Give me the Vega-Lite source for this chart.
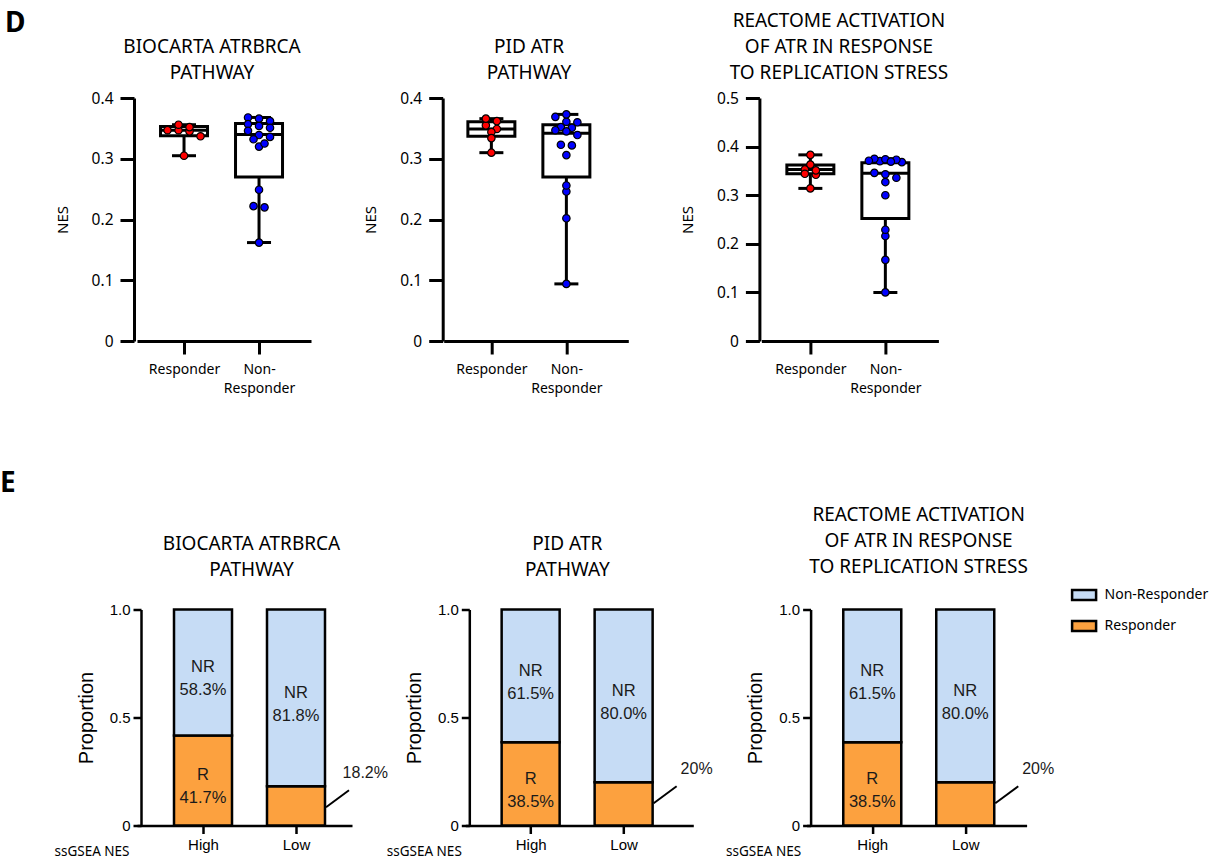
{
  "$schema": "https://vega.github.io/schema/vega-lite/v6.json",
  "background": "white",
  "padding": {"left": 0, "top": 10, "right": 0, "bottom": 3},
  "config": {
    "view": {"stroke": null},
    "font": "Noto Sans",
    "axis": {"grid": false, "domainColor": "black", "tickColor": "black", "labelColor": "black", "titleColor": "black"},
    "title": {"font": "Noto Sans", "fontSize": 19, "fontWeight": "normal", "lineHeight": 26, "color": "black", "anchor": "middle", "frame": "group"}
  },
  "datasets": {
    "nes": [
      {"panel": "p1", "group": "Responder", "nes": 0.345},
      {"panel": "p1", "group": "Responder", "nes": 0.352},
      {"panel": "p1", "group": "Responder", "nes": 0.347},
      {"panel": "p1", "group": "Responder", "nes": 0.347},
      {"panel": "p1", "group": "Responder", "nes": 0.356},
      {"panel": "p1", "group": "Responder", "nes": 0.337},
      {"panel": "p1", "group": "Responder", "nes": 0.305},
      {"panel": "p1", "group": "Non-Responder", "nes": 0.362},
      {"panel": "p1", "group": "Non-Responder", "nes": 0.366},
      {"panel": "p1", "group": "Non-Responder", "nes": 0.368},
      {"panel": "p1", "group": "Non-Responder", "nes": 0.357},
      {"panel": "p1", "group": "Non-Responder", "nes": 0.346},
      {"panel": "p1", "group": "Non-Responder", "nes": 0.354},
      {"panel": "p1", "group": "Non-Responder", "nes": 0.351},
      {"panel": "p1", "group": "Non-Responder", "nes": 0.339},
      {"panel": "p1", "group": "Non-Responder", "nes": 0.332},
      {"panel": "p1", "group": "Non-Responder", "nes": 0.320},
      {"panel": "p1", "group": "Non-Responder", "nes": 0.336},
      {"panel": "p1", "group": "Non-Responder", "nes": 0.325},
      {"panel": "p1", "group": "Non-Responder", "nes": 0.249},
      {"panel": "p1", "group": "Non-Responder", "nes": 0.220},
      {"panel": "p1", "group": "Non-Responder", "nes": 0.222},
      {"panel": "p1", "group": "Non-Responder", "nes": 0.162},
      {"panel": "p2", "group": "Responder", "nes": 0.355},
      {"panel": "p2", "group": "Responder", "nes": 0.366},
      {"panel": "p2", "group": "Responder", "nes": 0.362},
      {"panel": "p2", "group": "Responder", "nes": 0.349},
      {"panel": "p2", "group": "Responder", "nes": 0.344},
      {"panel": "p2", "group": "Responder", "nes": 0.334},
      {"panel": "p2", "group": "Responder", "nes": 0.310},
      {"panel": "p2", "group": "Non-Responder", "nes": 0.369},
      {"panel": "p2", "group": "Non-Responder", "nes": 0.351},
      {"panel": "p2", "group": "Non-Responder", "nes": 0.339},
      {"panel": "p2", "group": "Non-Responder", "nes": 0.352},
      {"panel": "p2", "group": "Non-Responder", "nes": 0.361},
      {"panel": "p2", "group": "Non-Responder", "nes": 0.345},
      {"panel": "p2", "group": "Non-Responder", "nes": 0.373},
      {"panel": "p2", "group": "Non-Responder", "nes": 0.360},
      {"panel": "p2", "group": "Non-Responder", "nes": 0.347},
      {"panel": "p2", "group": "Non-Responder", "nes": 0.322},
      {"panel": "p2", "group": "Non-Responder", "nes": 0.323},
      {"panel": "p2", "group": "Non-Responder", "nes": 0.306},
      {"panel": "p2", "group": "Non-Responder", "nes": 0.246},
      {"panel": "p2", "group": "Non-Responder", "nes": 0.256},
      {"panel": "p2", "group": "Non-Responder", "nes": 0.202},
      {"panel": "p2", "group": "Non-Responder", "nes": 0.094},
      {"panel": "p3", "group": "Responder", "nes": 0.363},
      {"panel": "p3", "group": "Responder", "nes": 0.342},
      {"panel": "p3", "group": "Responder", "nes": 0.353},
      {"panel": "p3", "group": "Responder", "nes": 0.344},
      {"panel": "p3", "group": "Responder", "nes": 0.351},
      {"panel": "p3", "group": "Responder", "nes": 0.383},
      {"panel": "p3", "group": "Responder", "nes": 0.314},
      {"panel": "p3", "group": "Non-Responder", "nes": 0.370},
      {"panel": "p3", "group": "Non-Responder", "nes": 0.375},
      {"panel": "p3", "group": "Non-Responder", "nes": 0.371},
      {"panel": "p3", "group": "Non-Responder", "nes": 0.374},
      {"panel": "p3", "group": "Non-Responder", "nes": 0.368},
      {"panel": "p3", "group": "Non-Responder", "nes": 0.373},
      {"panel": "p3", "group": "Non-Responder", "nes": 0.369},
      {"panel": "p3", "group": "Non-Responder", "nes": 0.346},
      {"panel": "p3", "group": "Non-Responder", "nes": 0.343},
      {"panel": "p3", "group": "Non-Responder", "nes": 0.336},
      {"panel": "p3", "group": "Non-Responder", "nes": 0.327},
      {"panel": "p3", "group": "Non-Responder", "nes": 0.300},
      {"panel": "p3", "group": "Non-Responder", "nes": 0.216},
      {"panel": "p3", "group": "Non-Responder", "nes": 0.229},
      {"panel": "p3", "group": "Non-Responder", "nes": 0.167},
      {"panel": "p3", "group": "Non-Responder", "nes": 0.100}
    ],
    "stats": [
      {"panel": "p1", "group": "Responder", "min": 0.305, "q1": 0.338, "median": 0.347, "q3": 0.353, "max": 0.356},
      {"panel": "p1", "group": "Non-Responder", "min": 0.162, "q1": 0.270, "median": 0.340, "q3": 0.358, "max": 0.368},
      {"panel": "p2", "group": "Responder", "min": 0.310, "q1": 0.337, "median": 0.349, "q3": 0.361, "max": 0.366},
      {"panel": "p2", "group": "Non-Responder", "min": 0.094, "q1": 0.270, "median": 0.342, "q3": 0.356, "max": 0.373},
      {"panel": "p3", "group": "Responder", "min": 0.314, "q1": 0.344, "median": 0.353, "q3": 0.362, "max": 0.383},
      {"panel": "p3", "group": "Non-Responder", "min": 0.100, "q1": 0.252, "median": 0.345, "q3": 0.367, "max": 0.375}
    ],
    "props": [
      {"panel": "b1", "group": "High", "status": "Responder", "prop": 0.417},
      {"panel": "b1", "group": "High", "status": "Non-Responder", "prop": 0.583},
      {"panel": "b1", "group": "Low", "status": "Responder", "prop": 0.182},
      {"panel": "b1", "group": "Low", "status": "Non-Responder", "prop": 0.818},
      {"panel": "b2", "group": "High", "status": "Responder", "prop": 0.385},
      {"panel": "b2", "group": "High", "status": "Non-Responder", "prop": 0.615},
      {"panel": "b2", "group": "Low", "status": "Responder", "prop": 0.2},
      {"panel": "b2", "group": "Low", "status": "Non-Responder", "prop": 0.8},
      {"panel": "b3", "group": "High", "status": "Responder", "prop": 0.385},
      {"panel": "b3", "group": "High", "status": "Non-Responder", "prop": 0.615},
      {"panel": "b3", "group": "Low", "status": "Responder", "prop": 0.2},
      {"panel": "b3", "group": "Low", "status": "Non-Responder", "prop": 0.8}
    ]
  },
  "spacing": 73.5,
  "vconcat": [
    {
      "title": {"text": "D", "anchor": "start", "frame": "bounds", "font": "Noto Sans", "fontSize": 28, "fontWeight": "bold", "dx": -50, "dy": 26, "offset": 0},
      "spacing": 132.7,
      "bounds": "flush",
      "hconcat": [
        {
          "width": 174, "height": 243,
          "title": {"text": ["BIOCARTA ATRBRCA", "PATHWAY"], "offset": 8, "dx": -12},
          "layer": [
            {
              "data": {"name": "stats"},
              "transform": [{"filter": "datum.panel == 'p1'"}],
              "mark": {"type": "rule", "color": "black", "strokeWidth": 3},
              "encoding": {
                "x": {"field": "group", "type": "nominal", "scale": {"type": "point", "domain": ["Responder", "Non-Responder"], "padding": 0.66, "align": 0.475},
                  "axis": {"title": null, "labelAngle": 0, "labelExpr": "datum.value == 'Non-Responder' ? ['Non-', 'Responder'] : datum.value", "labelFont": "Noto Sans", "labelFontSize": 14, "labelLineHeight": 19.5, "tickSize": 13, "labelPadding": 8, "domainWidth": 3, "tickWidth": 3}},
                "y": {"field": "min", "type": "quantitative", "scale": {"domain": [0, 0.4], "nice": false},
                  "axis": {"title": "NES", "offset": 3, "values": [0, 0.1, 0.2, 0.3, 0.4], "labelExpr": "datum.value == 0 ? '0' : format(datum.value, '.1f')", "tickSize": 14, "labelPadding": 7, "labelFont": "Noto Sans", "labelFontSize": 15.5, "titleFont": "Noto Sans", "titleFontSize": 15, "titleFontWeight": "normal", "titlePadding": 21, "domainWidth": 3, "tickWidth": 3}},
                "y2": {"field": "max"}
              }
            },
            {
              "data": {"name": "stats"},
              "transform": [{"filter": "datum.panel == 'p1'"}],
              "mark": {"type": "bar", "fill": "white", "stroke": "black", "strokeWidth": 3, "size": 47},
              "encoding": {"x": {"field": "group", "type": "nominal"}, "y": {"field": "q1", "type": "quantitative"}, "y2": {"field": "q3"}}
            },
            {
              "data": {"name": "stats"},
              "transform": [{"filter": "datum.panel == 'p1'"}],
              "mark": {"type": "tick", "color": "black", "opacity": 1, "thickness": 3, "size": 47},
              "encoding": {"x": {"field": "group", "type": "nominal"}, "y": {"field": "median", "type": "quantitative"}}
            },
            {
              "data": {"name": "stats"},
              "transform": [{"filter": "datum.panel == 'p1'"}],
              "mark": {"type": "tick", "color": "black", "opacity": 1, "thickness": 3, "size": 24},
              "encoding": {"x": {"field": "group", "type": "nominal"}, "y": {"field": "min", "type": "quantitative"}}
            },
            {
              "data": {"name": "stats"},
              "transform": [{"filter": "datum.panel == 'p1'"}],
              "mark": {"type": "tick", "color": "black", "opacity": 1, "thickness": 3, "size": 24},
              "encoding": {"x": {"field": "group", "type": "nominal"}, "y": {"field": "max", "type": "quantitative"}}
            },
            {
              "data": {"name": "nes"},
              "transform": [
                {"filter": "datum.panel == 'p1'"},
                {"calculate": "floor(datum.nes / 0.012)", "as": "band"},
                {"window": [{"op": "row_number", "as": "slot"}], "groupby": ["group", "band"], "sort": [{"field": "nes", "order": "descending"}]},
                {"joinaggregate": [{"op": "count", "as": "crowd"}], "groupby": ["group", "band"]},
                {"calculate": "(datum.slot - (datum.crowd + 1) / 2) * 11", "as": "dx"}
              ],
              "mark": {"type": "point", "shape": "circle", "filled": true, "size": 55, "stroke": "black", "strokeWidth": 1.2, "opacity": 1},
              "encoding": {
                "x": {"field": "group", "type": "nominal"},
                "xOffset": {"field": "dx", "type": "quantitative", "scale": null},
                "y": {"field": "nes", "type": "quantitative"},
                "fill": {"field": "group", "type": "nominal", "scale": {"domain": ["Responder", "Non-Responder"], "range": ["#ff0000", "#0000ff"]}, "legend": null}
              }
            },
            {
              "mark": {"type": "rule", "color": "black", "strokeWidth": 3, "xOffset": -18, "x2Offset": 0},
              "encoding": {"y": {"datum": 0, "type": "quantitative"}}
            }
          ]
        },
        {
          "width": 184.6, "height": 243,
          "title": {"text": ["PID ATR", "PATHWAY"], "offset": 8, "dx": -7},
          "layer": [
            {
              "data": {"name": "stats"},
              "transform": [{"filter": "datum.panel == 'p2'"}],
              "mark": {"type": "rule", "color": "black", "strokeWidth": 3},
              "encoding": {
                "x": {"field": "group", "type": "nominal", "scale": {"type": "point", "domain": ["Responder", "Non-Responder"], "padding": 0.7307, "align": 0.435},
                  "axis": {"title": null, "labelAngle": 0, "labelExpr": "datum.value == 'Non-Responder' ? ['Non-', 'Responder'] : datum.value", "labelFont": "Noto Sans", "labelFontSize": 14, "labelLineHeight": 19.5, "tickSize": 13, "labelPadding": 8, "domainWidth": 3, "tickWidth": 3}},
                "y": {"field": "min", "type": "quantitative", "scale": {"domain": [0, 0.4], "nice": false},
                  "axis": {"title": "NES", "offset": 1, "values": [0, 0.1, 0.2, 0.3, 0.4], "labelExpr": "datum.value == 0 ? '0' : format(datum.value, '.1f')", "tickSize": 14, "labelPadding": 7, "labelFont": "Noto Sans", "labelFontSize": 15.5, "titleFont": "Noto Sans", "titleFontSize": 15, "titleFontWeight": "normal", "titlePadding": 21, "domainWidth": 3, "tickWidth": 3}},
                "y2": {"field": "max"}
              }
            },
            {
              "data": {"name": "stats"},
              "transform": [{"filter": "datum.panel == 'p2'"}],
              "mark": {"type": "bar", "fill": "white", "stroke": "black", "strokeWidth": 3, "size": 47},
              "encoding": {"x": {"field": "group", "type": "nominal"}, "y": {"field": "q1", "type": "quantitative"}, "y2": {"field": "q3"}}
            },
            {
              "data": {"name": "stats"},
              "transform": [{"filter": "datum.panel == 'p2'"}],
              "mark": {"type": "tick", "color": "black", "opacity": 1, "thickness": 3, "size": 47},
              "encoding": {"x": {"field": "group", "type": "nominal"}, "y": {"field": "median", "type": "quantitative"}}
            },
            {
              "data": {"name": "stats"},
              "transform": [{"filter": "datum.panel == 'p2'"}],
              "mark": {"type": "tick", "color": "black", "opacity": 1, "thickness": 3, "size": 24},
              "encoding": {"x": {"field": "group", "type": "nominal"}, "y": {"field": "min", "type": "quantitative"}}
            },
            {
              "data": {"name": "stats"},
              "transform": [{"filter": "datum.panel == 'p2'"}],
              "mark": {"type": "tick", "color": "black", "opacity": 1, "thickness": 3, "size": 24},
              "encoding": {"x": {"field": "group", "type": "nominal"}, "y": {"field": "max", "type": "quantitative"}}
            },
            {
              "data": {"name": "nes"},
              "transform": [
                {"filter": "datum.panel == 'p2'"},
                {"calculate": "floor(datum.nes / 0.012)", "as": "band"},
                {"window": [{"op": "row_number", "as": "slot"}], "groupby": ["group", "band"], "sort": [{"field": "nes", "order": "descending"}]},
                {"joinaggregate": [{"op": "count", "as": "crowd"}], "groupby": ["group", "band"]},
                {"calculate": "(datum.slot - (datum.crowd + 1) / 2) * 11", "as": "dx"}
              ],
              "mark": {"type": "point", "shape": "circle", "filled": true, "size": 55, "stroke": "black", "strokeWidth": 1.2, "opacity": 1},
              "encoding": {
                "x": {"field": "group", "type": "nominal"},
                "xOffset": {"field": "dx", "type": "quantitative", "scale": null},
                "y": {"field": "nes", "type": "quantitative"},
                "fill": {"field": "group", "type": "nominal", "scale": {"domain": ["Responder", "Non-Responder"], "range": ["#ff0000", "#0000ff"]}, "legend": null}
              }
            },
            {
              "mark": {"type": "rule", "color": "black", "strokeWidth": 3, "xOffset": -16, "x2Offset": 0},
              "encoding": {"y": {"datum": 0, "type": "quantitative"}}
            }
          ]
        },
        {
          "width": 177, "height": 243,
          "title": {"text": ["REACTOME ACTIVATION", "OF ATR IN RESPONSE", "TO REPLICATION STRESS"], "offset": 8, "dx": -11},
          "layer": [
            {
              "data": {"name": "stats"},
              "transform": [{"filter": "datum.panel == 'p3'"}],
              "mark": {"type": "rule", "color": "black", "strokeWidth": 3},
              "encoding": {
                "x": {"field": "group", "type": "nominal", "scale": {"type": "point", "domain": ["Responder", "Non-Responder"], "padding": 0.68, "align": 0.48},
                  "axis": {"title": null, "labelAngle": 0, "labelExpr": "datum.value == 'Non-Responder' ? ['Non-', 'Responder'] : datum.value", "labelFont": "Noto Sans", "labelFontSize": 14, "labelLineHeight": 19.5, "tickSize": 13, "labelPadding": 8, "domainWidth": 3, "tickWidth": 3}},
                "y": {"field": "min", "type": "quantitative", "scale": {"domain": [0, 0.5], "nice": false},
                  "axis": {"title": "NES", "offset": 2, "values": [0, 0.1, 0.2, 0.3, 0.4, 0.5], "labelExpr": "datum.value == 0 ? '0' : format(datum.value, '.1f')", "tickSize": 14, "labelPadding": 7, "labelFont": "Noto Sans", "labelFontSize": 15.5, "titleFont": "Noto Sans", "titleFontSize": 15, "titleFontWeight": "normal", "titlePadding": 21, "domainWidth": 3, "tickWidth": 3}},
                "y2": {"field": "max"}
              }
            },
            {
              "data": {"name": "stats"},
              "transform": [{"filter": "datum.panel == 'p3'"}],
              "mark": {"type": "bar", "fill": "white", "stroke": "black", "strokeWidth": 3, "size": 47},
              "encoding": {"x": {"field": "group", "type": "nominal"}, "y": {"field": "q1", "type": "quantitative"}, "y2": {"field": "q3"}}
            },
            {
              "data": {"name": "stats"},
              "transform": [{"filter": "datum.panel == 'p3'"}],
              "mark": {"type": "tick", "color": "black", "opacity": 1, "thickness": 3, "size": 47},
              "encoding": {"x": {"field": "group", "type": "nominal"}, "y": {"field": "median", "type": "quantitative"}}
            },
            {
              "data": {"name": "stats"},
              "transform": [{"filter": "datum.panel == 'p3'"}],
              "mark": {"type": "tick", "color": "black", "opacity": 1, "thickness": 3, "size": 24},
              "encoding": {"x": {"field": "group", "type": "nominal"}, "y": {"field": "min", "type": "quantitative"}}
            },
            {
              "data": {"name": "stats"},
              "transform": [{"filter": "datum.panel == 'p3'"}],
              "mark": {"type": "tick", "color": "black", "opacity": 1, "thickness": 3, "size": 24},
              "encoding": {"x": {"field": "group", "type": "nominal"}, "y": {"field": "max", "type": "quantitative"}}
            },
            {
              "data": {"name": "nes"},
              "transform": [
                {"filter": "datum.panel == 'p3'"},
                {"calculate": "floor(datum.nes / 0.012)", "as": "band"},
                {"window": [{"op": "row_number", "as": "slot"}], "groupby": ["group", "band"], "sort": [{"field": "nes", "order": "descending"}]},
                {"joinaggregate": [{"op": "count", "as": "crowd"}], "groupby": ["group", "band"]},
                {"calculate": "(datum.slot - (datum.crowd + 1) / 2) * 11", "as": "dx"}
              ],
              "mark": {"type": "point", "shape": "circle", "filled": true, "size": 55, "stroke": "black", "strokeWidth": 1.2, "opacity": 1},
              "encoding": {
                "x": {"field": "group", "type": "nominal"},
                "xOffset": {"field": "dx", "type": "quantitative", "scale": null},
                "y": {"field": "nes", "type": "quantitative"},
                "fill": {"field": "group", "type": "nominal", "scale": {"domain": ["Responder", "Non-Responder"], "range": ["#ff0000", "#0000ff"]}, "legend": null}
              }
            },
            {
              "mark": {"type": "rule", "color": "black", "strokeWidth": 3, "xOffset": -17, "x2Offset": 0},
              "encoding": {"y": {"datum": 0, "type": "quantitative"}}
            }
          ]
        }
      ]
    },
    {
      "title": {"text": "E", "anchor": "start", "frame": "bounds", "font": "Noto Sans", "fontSize": 28, "fontWeight": "bold", "dx": -54, "dy": 0, "offset": 8},
      "spacing": 113.3,
      "bounds": "flush",
      "resolve": {"scale": {"color": "independent"}, "legend": {"color": "independent"}},
      "hconcat": [
        {
          "width": 215, "height": 216,
          "title": {"text": ["BIOCARTA ATRBRCA", "PATHWAY"], "offset": 23, "dx": 7},
          "data": {"name": "props"},
          "transform": [{"filter": "datum.panel == 'b1'"}],
          "layer": [
            {
              "mark": {"type": "bar", "size": 58, "stroke": "black", "strokeWidth": 2.5},
              "encoding": {
                "x": {"field": "group", "type": "nominal", "sort": ["High", "Low"], "scale": {"type": "point", "padding": 0.656, "align": 0.541},
                  "axis": {"title": "ssGSEA NES", "titleAngle": 0, "titleAlign": "left", "titleBaseline": "middle", "titleX": -83, "titleY": 26, "titleFont": "Noto Sans", "titleFontSize": 13.5, "titleFontWeight": "normal", "labelFont": "Liberation Sans", "labelFontSize": 15, "labelAngle": 0, "tickSize": 8, "labelPadding": 4, "domainWidth": 2.5, "tickWidth": 2.5}},
                "y": {"field": "prop", "type": "quantitative", "stack": "zero", "scale": {"domain": [0, 1], "nice": false},
                  "axis": {"title": "Proportion", "offset": -4, "values": [0, 0.5, 1], "labelExpr": "datum.value == 0 ? '0' : format(datum.value, '.1f')", "tickSize": 8, "labelPadding": 3, "labelFont": "Liberation Sans", "labelFontSize": 15, "titleFont": "Liberation Sans", "titleFontSize": 20, "titleFontWeight": "normal", "titlePadding": 13, "domainWidth": 2.5, "tickWidth": 2.5}},
                "color": {"field": "status", "type": "nominal", "scale": {"domain": ["Non-Responder", "Responder"], "range": ["#c6dcf5", "#fca13f"]}, "legend": null},
                "order": {"field": "status", "sort": "descending"}
              }
            },
            {
              "transform": [
                {"stack": "prop", "groupby": ["group"], "sort": [{"field": "status", "order": "descending"}], "as": ["lo", "hi"]},
                {"filter": "datum.prop >= 0.3"},
                {"calculate": "(datum.status == 'Responder' ? 'R' : 'NR') + '\\n' + format(datum.prop, '.1%')", "as": "lines"},
                {"calculate": "(datum.lo + datum.hi) / 2", "as": "mid"}
              ],
              "mark": {"type": "text", "font": "Liberation Sans", "fontSize": 16.5, "lineHeight": 23, "lineBreak": "\n", "baseline": "middle", "color": "#1a1a1a", "yOffset": -5},
              "encoding": {"x": {"field": "group", "type": "nominal"}, "y": {"field": "mid", "type": "quantitative"}, "text": {"field": "lines", "type": "nominal"}}
            },
            {
              "transform": [{"filter": "datum.group == 'Low' && datum.status == 'Responder'"}],
              "mark": {"type": "rule", "color": "black", "strokeWidth": 2, "xOffset": 30, "x2Offset": 53, "yOffset": 21, "y2Offset": 4},
              "encoding": {"x": {"field": "group", "type": "nominal"}, "x2": {"field": "group"}, "y": {"field": "prop", "type": "quantitative"}, "y2": {"field": "prop"}}
            },
            {
              "transform": [{"filter": "datum.group == 'Low' && datum.status == 'Responder'"}, {"calculate": "format(datum.prop, '.3~%')", "as": "pct"}],
              "mark": {"type": "text", "align": "right", "baseline": "middle", "xOffset": 92, "yOffset": -13, "font": "Liberation Sans", "fontSize": 16, "color": "#1a1a1a"},
              "encoding": {"x": {"field": "group", "type": "nominal"}, "y": {"field": "prop", "type": "quantitative"}, "text": {"field": "pct", "type": "nominal"}}
            }
          ]
        },
        {
          "width": 228, "height": 216,
          "title": {"text": ["PID ATR", "PATHWAY"], "offset": 23, "dx": -12},
          "data": {"name": "props"},
          "transform": [{"filter": "datum.panel == 'b2'"}],
          "layer": [
            {
              "mark": {"type": "bar", "size": 58, "stroke": "black", "strokeWidth": 2.5},
              "encoding": {
                "x": {"field": "group", "type": "nominal", "sort": ["High", "Low"], "scale": {"type": "point", "padding": 0.726, "align": 0.484},
                  "axis": {"title": "ssGSEA NES", "titleAngle": 0, "titleAlign": "left", "titleBaseline": "middle", "titleX": -79, "titleY": 26, "titleFont": "Noto Sans", "titleFontSize": 13.5, "titleFontWeight": "normal", "labelFont": "Liberation Sans", "labelFontSize": 15, "labelAngle": 0, "tickSize": 8, "labelPadding": 4, "domainWidth": 2.5, "tickWidth": 2.5}},
                "y": {"field": "prop", "type": "quantitative", "stack": "zero", "scale": {"domain": [0, 1], "nice": false},
                  "axis": {"title": "Proportion", "offset": -4, "values": [0, 0.5, 1], "labelExpr": "datum.value == 0 ? '0' : format(datum.value, '.1f')", "tickSize": 8, "labelPadding": 3, "labelFont": "Liberation Sans", "labelFontSize": 15, "titleFont": "Liberation Sans", "titleFontSize": 20, "titleFontWeight": "normal", "titlePadding": 13, "domainWidth": 2.5, "tickWidth": 2.5}},
                "color": {"field": "status", "type": "nominal", "scale": {"domain": ["Non-Responder", "Responder"], "range": ["#c6dcf5", "#fca13f"]}, "legend": null},
                "order": {"field": "status", "sort": "descending"}
              }
            },
            {
              "transform": [
                {"stack": "prop", "groupby": ["group"], "sort": [{"field": "status", "order": "descending"}], "as": ["lo", "hi"]},
                {"filter": "datum.prop >= 0.3"},
                {"calculate": "(datum.status == 'Responder' ? 'R' : 'NR') + '\\n' + format(datum.prop, '.1%')", "as": "lines"},
                {"calculate": "(datum.lo + datum.hi) / 2", "as": "mid"}
              ],
              "mark": {"type": "text", "font": "Liberation Sans", "fontSize": 16.5, "lineHeight": 23, "lineBreak": "\n", "baseline": "middle", "color": "#1a1a1a", "yOffset": -5},
              "encoding": {"x": {"field": "group", "type": "nominal"}, "y": {"field": "mid", "type": "quantitative"}, "text": {"field": "lines", "type": "nominal"}}
            },
            {
              "transform": [{"filter": "datum.group == 'Low' && datum.status == 'Responder'"}],
              "mark": {"type": "rule", "color": "black", "strokeWidth": 2, "xOffset": 30, "x2Offset": 53, "yOffset": 21, "y2Offset": 4},
              "encoding": {"x": {"field": "group", "type": "nominal"}, "x2": {"field": "group"}, "y": {"field": "prop", "type": "quantitative"}, "y2": {"field": "prop"}}
            },
            {
              "transform": [{"filter": "datum.group == 'Low' && datum.status == 'Responder'"}, {"calculate": "format(datum.prop, '.3~%')", "as": "pct"}],
              "mark": {"type": "text", "align": "right", "baseline": "middle", "xOffset": 89, "yOffset": -13, "font": "Liberation Sans", "fontSize": 16, "color": "#1a1a1a"},
              "encoding": {"x": {"field": "group", "type": "nominal"}, "y": {"field": "prop", "type": "quantitative"}, "text": {"field": "pct", "type": "nominal"}}
            }
          ]
        },
        {
          "width": 220, "height": 216,
          "title": {"text": ["REACTOME ACTIVATION", "OF ATR IN RESPONSE", "TO REPLICATION STRESS"], "offset": 5, "dx": 2},
          "data": {"name": "props"},
          "transform": [{"filter": "datum.panel == 'b3'"}],
          "layer": [
            {
              "mark": {"type": "bar", "size": 58, "stroke": "black", "strokeWidth": 2.5},
              "encoding": {
                "x": {"field": "group", "type": "nominal", "sort": ["High", "Low"], "scale": {"type": "point", "padding": 0.683, "align": 0.517},
                  "axis": {"title": "ssGSEA NES", "titleAngle": 0, "titleAlign": "left", "titleBaseline": "middle", "titleX": -81, "titleY": 26, "titleFont": "Noto Sans", "titleFontSize": 13.5, "titleFontWeight": "normal", "labelFont": "Liberation Sans", "labelFontSize": 15, "labelAngle": 0, "tickSize": 8, "labelPadding": 4, "domainWidth": 2.5, "tickWidth": 2.5}},
                "y": {"field": "prop", "type": "quantitative", "stack": "zero", "scale": {"domain": [0, 1], "nice": false},
                  "axis": {"title": "Proportion", "offset": -4, "values": [0, 0.5, 1], "labelExpr": "datum.value == 0 ? '0' : format(datum.value, '.1f')", "tickSize": 8, "labelPadding": 3, "labelFont": "Liberation Sans", "labelFontSize": 15, "titleFont": "Liberation Sans", "titleFontSize": 20, "titleFontWeight": "normal", "titlePadding": 13, "domainWidth": 2.5, "tickWidth": 2.5}},
                "color": {"field": "status", "type": "nominal", "scale": {"domain": ["Non-Responder", "Responder"], "range": ["#c6dcf5", "#fca13f"]},
                  "legend": {"title": null, "orient": "none", "legendX": 264, "legendY": -28, "padding": 0, "symbolType": "M-1,-0.42H1V0.42H-1Z", "symbolSize": 576, "symbolStrokeColor": "black", "symbolStrokeWidth": 2.5, "symbolOpacity": 1, "labelFont": "Noto Sans", "labelFontSize": 14, "labelColor": "black", "labelOffset": 7, "rowPadding": 7}},
                "order": {"field": "status", "sort": "descending"}
              }
            },
            {
              "transform": [
                {"stack": "prop", "groupby": ["group"], "sort": [{"field": "status", "order": "descending"}], "as": ["lo", "hi"]},
                {"filter": "datum.prop >= 0.3"},
                {"calculate": "(datum.status == 'Responder' ? 'R' : 'NR') + '\\n' + format(datum.prop, '.1%')", "as": "lines"},
                {"calculate": "(datum.lo + datum.hi) / 2", "as": "mid"}
              ],
              "mark": {"type": "text", "font": "Liberation Sans", "fontSize": 16.5, "lineHeight": 23, "lineBreak": "\n", "baseline": "middle", "color": "#1a1a1a", "yOffset": -5},
              "encoding": {"x": {"field": "group", "type": "nominal"}, "y": {"field": "mid", "type": "quantitative"}, "text": {"field": "lines", "type": "nominal"}}
            },
            {
              "transform": [{"filter": "datum.group == 'Low' && datum.status == 'Responder'"}],
              "mark": {"type": "rule", "color": "black", "strokeWidth": 2, "xOffset": 30, "x2Offset": 53, "yOffset": 21, "y2Offset": 4},
              "encoding": {"x": {"field": "group", "type": "nominal"}, "x2": {"field": "group"}, "y": {"field": "prop", "type": "quantitative"}, "y2": {"field": "prop"}}
            },
            {
              "transform": [{"filter": "datum.group == 'Low' && datum.status == 'Responder'"}, {"calculate": "format(datum.prop, '.3~%')", "as": "pct"}],
              "mark": {"type": "text", "align": "right", "baseline": "middle", "xOffset": 89, "yOffset": -13, "font": "Liberation Sans", "fontSize": 16, "color": "#1a1a1a"},
              "encoding": {"x": {"field": "group", "type": "nominal"}, "y": {"field": "prop", "type": "quantitative"}, "text": {"field": "pct", "type": "nominal"}}
            }
          ]
        }
      ]
    }
  ]
}
